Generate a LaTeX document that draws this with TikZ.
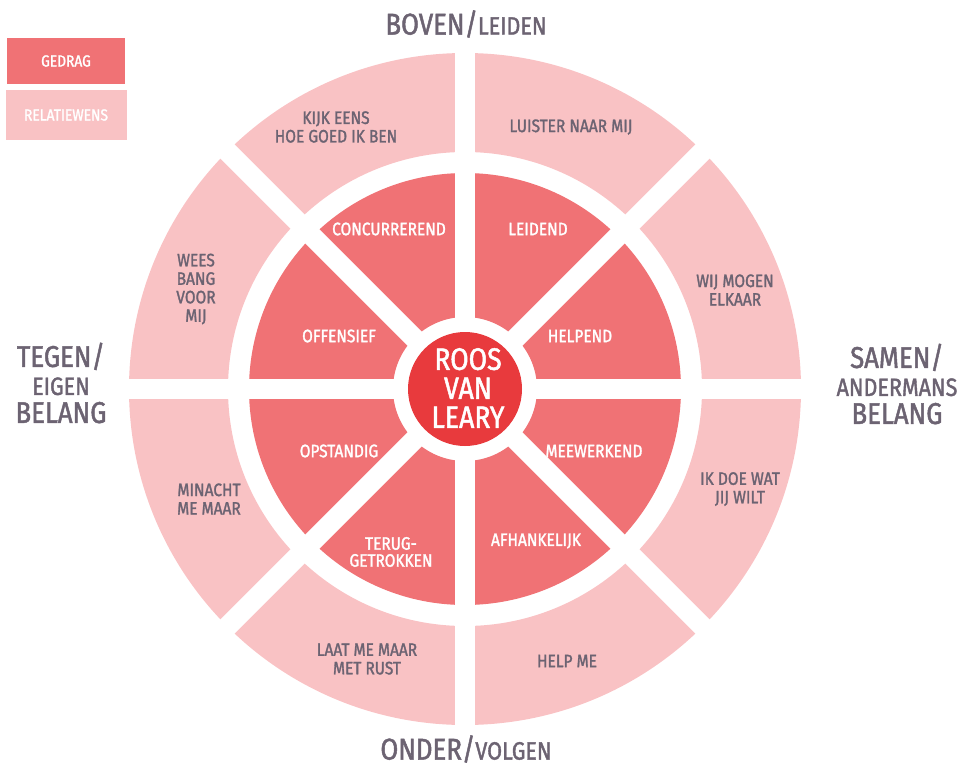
\documentclass[tikz,border=0pt]{standalone}
\usepackage{fontspec}
\setmainfont{Fira Sans}[FakeStretch=0.86, AutoFakeBold=1.6]
\usepackage{tikz}
\definecolor{wens}{RGB}{249,194,196}
\definecolor{gedrag}{RGB}{240,114,117}
\definecolor{roos}{RGB}{232,58,61}
\definecolor{tekst}{RGB}{108,99,114}

\begin{document}
\begin{tikzpicture}[x=1pt, y=-1pt,
  wenslabel/.style={text=tekst, font=\bfseries\fontsize{18}{18.5}\selectfont, align=center},
  gedraglabel/.style={text=white, font=\bfseries\fontsize{18}{17}\selectfont, align=center},
  aslabel/.style={text=tekst, font=\bfseries\fontsize{30}{28}\selectfont, align=center}]
\useasboundingbox (0, 0) rectangle (961, 769);
% ringen
\fill [wens, even odd rule] (465, 389) circle (336) (465, 389) circle (237);
\fill [gedrag, even odd rule] (465, 389) circle (216) (465, 389) circle (72);
\foreach \hoek in {0, 45, 90, 135}
  \draw [white, line width=20] (465, 389) ++(\hoek:345) -- ++(\hoek+180:690);
\fill [roos] (465, 389) circle (57);
% legenda
\fill [gedrag] (7, 38) rectangle (125, 84);
\node [text=white, font=\bfseries\fontsize{16}{16}\selectfont] (gedrag) at (66, 61) {GEDRAG};
\fill [wens] (6, 90) rectangle (127, 140);
\node [text=white, font=\bfseries\fontsize{16}{16}\selectfont] (relatiewens) at (66, 115) {RELATIEWENS};
% assen
\node [aslabel] (boven) at (466, 24) {BOVEN/{\fontsize{25}{25}\selectfont LEIDEN}};
\node [aslabel] (onder) at (466, 749) {ONDER/{\fontsize{25}{25}\selectfont VOLGEN}};
\node [aslabel] (tegen) at (61, 383) {TEGEN/\\{\fontsize{25}{25}\selectfont EIGEN}\\BELANG};
\node [aslabel] (samen) at (897, 384) {SAMEN/\\{\fontsize{25}{25}\selectfont ANDERMANS}\\BELANG};
% relatiewensen
\node [wenslabel] (kijk) at (336, 127) {KIJK EENS\\HOE GOED IK BEN};
\node [wenslabel] (luister) at (571, 127) {LUISTER NAAR MIJ};
\node [wenslabel] (wij) at (735, 290) {WIJ MOGEN\\ELKAAR};
\node [wenslabel] (ikdoe) at (740, 489) {IK DOE WAT\\JIJ WILT};
\node [wenslabel] (help) at (567, 661) {HELP ME};
\node [wenslabel] (laat) at (367, 659) {LAAT ME MAAR\\MET RUST};
\node [wenslabel] (minacht) at (209, 499) {MINACHT\\ME MAAR};
\node [wenslabel] (wees) at (196, 289) {WEES\\BANG\\VOOR\\MIJ};
% gedrag
\node [gedraglabel] (concurrerend) at (389, 229) {CONCURREREND};
\node [gedraglabel] (leidend) at (538, 229) {LEIDEND};
\node [gedraglabel] (helpend) at (580, 336) {HELPEND};
\node [gedraglabel] (meewerkend) at (594, 451) {MEEWERKEND};
\node [gedraglabel] (afhankelijk) at (536, 541) {AFHANKELIJK};
\node [gedraglabel] (teruggetrokken) at (391, 552) {TERUG-\\GETROKKEN};
\node [gedraglabel] (opstandig) at (339, 451) {OPSTANDIG};
\node [gedraglabel] (offensief) at (339, 336) {OFFENSIEF};
\node [text=white, font=\bfseries\fontsize{31}{29}\selectfont, align=center] (roosvanleary) at (468, 388) {ROOS\\VAN\\LEARY};
\end{tikzpicture}
\end{document}
